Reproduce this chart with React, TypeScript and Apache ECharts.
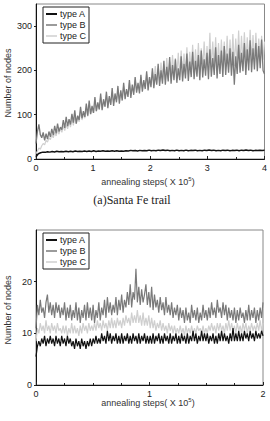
import React, { useEffect, useRef } from "react";
import * as echarts from "echarts";

// ---- (a) Santa Fe trail : annealing steps 0..4 (x10^5)
const topTypeA = [
  5, 12, 14, 15.5, 15, 16.5, 15.5, 17, 16, 17.5, 16.5, 17, 16.5, 17.5, 16.5, 17.5, 16.5, 18, 17, 17.5,
  17, 18, 17, 18, 17, 18.5, 17, 18, 17.5, 18.5, 17.5, 18, 17.5, 18.5, 17.5, 18.5, 17.5, 18, 17.5, 18.5,
  18, 19.5, 18.5, 19, 18, 19.5, 18.5, 19, 18.5, 20, 18.5, 19.5, 18.5, 20, 19, 20.5, 19, 20, 18.5, 19.5,
  18.5, 20, 18.5, 19.5, 18.5, 20, 18.5, 19.5, 19, 20, 18.5, 19.5, 18.5, 20, 19, 20.5, 19, 20, 18.5, 19.5,
  18.5, 20, 19, 20, 18.5, 19.5, 19, 20, 18.5, 20, 19, 20.5, 19, 20, 18.5, 19.5, 19, 20, 19, 19.5,
];
const topTypeB = [
  35, 62, 78, 55, 48, 60, 42, 57, 45, 62, 50, 68, 54, 75, 58, 80, 62, 72, 66, 88,
  70, 95, 74, 90, 78, 102, 82, 110, 80, 98, 88, 118, 92, 108, 95, 125, 98, 132, 102, 120,
  104, 140, 108, 128, 112, 148, 110, 135, 118, 152, 115, 142, 122, 160, 120, 148, 128, 165, 125, 155,
  132, 172, 135, 158, 140, 178, 138, 168, 145, 185, 150, 172, 148, 190, 152, 178, 158, 198, 155, 185,
  162, 205, 160, 192, 168, 215, 165, 200, 170, 222, 168, 208, 175, 230, 170, 212, 178, 225, 172, 205,
  178, 232, 175, 215, 182, 238, 176, 220, 185, 242, 180, 222, 186, 235, 178, 245, 184, 225, 188, 240,
  180, 248, 186, 228, 190, 252, 182, 235, 192, 245, 185, 255, 190, 238, 195, 250, 188, 242, 168, 232,
  192, 258, 195, 240, 198, 262, 190, 248, 200, 268, 196, 250, 202, 262, 198, 255, 205, 270, 200, 192,
];
const topTypeC = [
  12, 18, 25, 22, 30, 35, 32, 42, 38, 48, 44, 55, 48, 60, 52, 66, 56, 70, 60, 76,
  64, 78, 68, 85, 72, 92, 76, 98, 80, 95, 84, 108, 88, 102, 92, 115, 96, 120, 100, 115,
  104, 130, 108, 125, 112, 140, 115, 130, 118, 145, 122, 138, 125, 150, 128, 142, 132, 155, 135, 150,
  138, 165, 142, 155, 145, 172, 148, 160, 152, 178, 155, 168, 158, 185, 160, 172, 163, 192, 166, 185,
  168, 198, 170, 210, 172, 205, 174, 218, 176, 212, 178, 228, 180, 220, 182, 235, 184, 228, 185, 240,
  186, 245, 188, 238, 190, 252, 191, 242, 192, 258, 194, 248, 195, 262, 196, 250, 198, 265, 199, 255,
  200, 285, 202, 265, 203, 275, 204, 262, 205, 270, 206, 265, 207, 278, 208, 270, 209, 282, 210, 272,
  212, 290, 213, 278, 214, 286, 215, 275, 216, 292, 218, 280, 219, 285, 220, 272, 222, 278, 224, 265,
];

// ---- (b) : annealing steps 0..2 (x10^5)
const botTypeA = [
  5.5, 7.5, 8.5, 7.5, 9, 8, 9.5, 7.5, 9, 8, 9.5, 8, 9, 7.5, 9.5, 8, 9, 7.5, 9.5, 8,
  9, 7.5, 9.5, 8, 9, 7.5, 8.5, 7, 9, 7.5, 8.5, 7, 9, 7.5, 8.5, 7, 8.5, 7.5, 9, 7.5,
  9, 8, 9.5, 8, 9, 8, 10, 8.5, 9.5, 8, 10.5, 8.5, 10, 8, 9.5, 8.5, 10, 8, 9.5, 8,
  10, 8, 9.5, 8.5, 10, 8, 9.5, 8, 10, 8.5, 9.5, 8, 10, 8, 9.5, 8.5, 10, 8, 9.5, 8,
  9.5, 8, 10, 8, 9.5, 8.5, 10, 8, 9.5, 8, 10, 8.5, 9.5, 8, 10, 8, 9.5, 8.5, 10, 8,
  9.5, 8, 10, 8.5, 9.5, 8, 10, 8, 9.5, 8.5, 10.5, 8.5, 10, 8, 9.5, 8.5, 10.5, 8.5, 10, 8.5,
  10, 8, 9.5, 8.5, 10, 8, 9.5, 8, 10, 8.5, 10.5, 8.5, 10, 8.5, 9.5, 8, 10, 8.5, 11, 8.5,
  10, 8.5, 10.5, 8.5, 10, 8.5, 10.5, 9, 10, 8.5, 10.5, 9, 10, 8.5, 10.5, 9, 10, 9, 10.5, 9.5,
];
const botTypeB = [
  11, 15.5, 13.5, 16.5, 14, 15, 13, 16, 17.5, 14, 16, 13.5, 15.5, 13, 16, 14, 15.5, 13, 15, 13.5,
  16, 12.5, 15, 13, 15.5, 12.5, 14.5, 13, 16, 12.5, 15, 12, 14.5, 13, 15.5, 12.5, 16, 13, 15, 12.5,
  15.5, 12, 14.5, 13, 16, 12.5, 15, 13.5, 16.5, 13, 17, 14, 16, 13.5, 15.5, 14, 17, 13.5, 16.5, 14.5,
  17.5, 14, 16.5, 15, 18, 15.5, 19.5, 15, 18, 16.5, 22.5, 16, 19, 15.5, 18.5, 16, 17.5, 19.5, 15.5, 18,
  15, 19, 14.5, 17.5, 15, 16.5, 14, 17, 14.5, 16, 13.5, 17, 14, 15.5, 13.5, 16, 13, 15, 13.5, 15.5,
  12.5, 15, 13, 14.5, 12, 15, 12.5, 14, 12, 15.5, 13, 14.5, 12.5, 15, 12, 14, 12.5, 15.5, 13, 14.5,
  12.5, 15, 13, 16, 13.5, 15, 13, 16.5, 14, 15, 13, 16, 13.5, 15.5, 12.5, 15, 13, 14.5, 12.5, 15,
  12, 14.5, 12.5, 15, 13, 14, 12, 14.5, 12.5, 15.5, 12.5, 14.5, 13, 15, 12, 14.5, 12.5, 15, 13, 16,
];
const botTypeC = [
  8.5, 11, 10, 12, 10.5, 11.5, 10, 12.5, 10.5, 11.5, 10, 12, 10.5, 11.5, 10, 12, 10.5, 11, 10, 11.5,
  10, 11.5, 9.5, 11, 10, 12, 10, 11.5, 10, 11, 9.5, 11.5, 10, 12, 10.5, 11.5, 10, 12, 10.5, 11.5,
  10.5, 12, 10.5, 12.5, 11, 12, 10.5, 12.5, 11, 12, 10.5, 12.5, 11, 13, 11, 12.5, 11, 13, 11.5, 12.5,
  11, 13, 11.5, 13.5, 12, 13, 11.5, 14, 12, 13.5, 12, 14.5, 12, 13.5, 11.5, 14, 11.5, 13, 11.5, 13.5,
  11, 13, 11, 12.5, 10.5, 12, 11, 12.5, 10.5, 12, 10.5, 11.5, 10, 12, 10.5, 11.5, 10, 11.5, 10, 11,
  10, 11.5, 10, 11, 9.5, 11.5, 10, 11, 10, 11.5, 10, 11, 10, 11.5, 10.5, 11, 10, 11.5, 10, 11,
  10, 11.5, 10.5, 12, 10.5, 11.5, 10, 12, 10.5, 12, 10.5, 11.5, 10, 12, 10.5, 12.5, 10.5, 12, 10.5, 11.5,
  10, 12, 10.5, 11.5, 10, 12, 10.5, 12, 10, 11.5, 10.5, 12, 10.5, 11.5, 10.5, 12, 10.5, 12.5, 10.5, 12,
];

const seriesNames = ["type A", "type B", "type C"];
const seriesColors = ["#111111", "#7a7a7a", "#cfcfcf"];
const topXMax = 4;
const botXMax = 2;
const yLabel = "Number of nodes";
const captionA = "(a)Santa Fe trail";

const toPairs = (vals: number[], xmax: number) =>
  vals.map((v, i) => [(i * xmax) / (vals.length - 1), v]);

const FONT = "Liberation Sans, Arial, sans-serif";

function legendGroup(x: number, y: number) {
  const children: any[] = [
    {
      type: "rect",
      shape: { x: 0, y: 0, width: 46, height: 36 },
      style: { fill: "#fff", stroke: "#222", lineWidth: 1 },
    },
  ];
  seriesNames.forEach((n, i) => {
    const cy = 7 + i * 11;
    children.push({
      type: "line",
      shape: { x1: 3, y1: cy, x2: 14, y2: cy },
      style: { stroke: seriesColors[i], lineWidth: i === 0 ? 2 : 1.5 },
    });
    children.push({
      type: "text",
      x: 17,
      y: cy,
      style: {
        text: n,
        fill: "#222",
        font: `9px ${FONT}`,
        verticalAlign: "middle",
        align: "left",
      },
    });
  });
  return { type: "group", x, y, z: 100, children };
}

function xName(cx: number, cy: number) {
  return {
    type: "text",
    x: cx,
    y: cy,
    style: {
      text: "{a|annealing steps( X 10}{s|5}{a|)}",
      align: "center",
      verticalAlign: "middle",
      rich: {
        a: { font: `9px ${FONT}`, fill: "#333" },
        s: { font: `6px ${FONT}`, fill: "#333", verticalAlign: "top", padding: [0, 0, 6, 0] },
      },
    },
  };
}

function yName(cx: number, cy: number) {
  return {
    type: "text",
    x: cx,
    y: cy,
    rotation: Math.PI / 2,
    style: {
      text: yLabel,
      font: `9px ${FONT}`,
      fill: "#333",
      align: "center",
      verticalAlign: "middle",
    },
  };
}

export default function App() {
  const ref = useRef<HTMLDivElement>(null);
  useEffect(() => {
    if (!ref.current) return;
    const chart = echarts.init(ref.current, null, { renderer: "svg" });
    const axisLine = { show: true, lineStyle: { color: "#111", width: 1 } };
    const axisLabel = { color: "#222", fontSize: 9, fontFamily: FONT, margin: 4 };
    const xCommon = {
      type: "value",
      axisLine,
      axisTick: { show: true, inside: true, length: 3, lineStyle: { color: "#222" } },
      minorTick: { show: true, length: 2, lineStyle: { color: "#222" } },
      splitLine: { show: false },
      axisLabel,
    };
    const yCommon = {
      type: "value",
      axisLine,
      axisTick: { show: true, inside: false, length: 2, lineStyle: { color: "#222" } },
      splitLine: { show: false },
      axisLabel: { ...axisLabel, showMaxLabel: false },
    };
    const line = (name: string, data: any[], idx: number, color: string, w: number, z: number) => ({
      name,
      type: "line",
      xAxisIndex: idx,
      yAxisIndex: idx,
      data,
      showSymbol: false,
      symbol: "none",
      lineStyle: { color, width: w },
      z,
    });
    chart.setOption({
      animation: false,
      grid: [
        { left: 36, top: 4, width: 229, height: 155, show: true, borderColor: "#888", borderWidth: 1 },
        { left: 36, top: 230, width: 227, height: 155, show: true, borderColor: "#888", borderWidth: 1 },
      ],
      xAxis: [
        { ...xCommon, gridIndex: 0, min: 0, max: topXMax, interval: 1, minorTick: { ...xCommon.minorTick, splitNumber: 2 } },
        { ...xCommon, gridIndex: 1, min: 0, max: botXMax, interval: 1, minorTick: { ...xCommon.minorTick, splitNumber: 4 } },
      ],
      yAxis: [
        { ...yCommon, gridIndex: 0, min: 0, max: 350, interval: 100 },
        { ...yCommon, gridIndex: 1, min: 0, max: 30, interval: 10 },
      ],
      series: [
        line(seriesNames[2], toPairs(topTypeC, topXMax), 0, seriesColors[2], 1.2, 2),
        line(seriesNames[1], toPairs(topTypeB, topXMax), 0, seriesColors[1], 1.3, 3),
        line(seriesNames[0], toPairs(topTypeA, topXMax), 0, seriesColors[0], 1.5, 4),
        line(seriesNames[2], toPairs(botTypeC, botXMax), 1, seriesColors[2], 1.2, 2),
        line(seriesNames[1], toPairs(botTypeB, botXMax), 1, seriesColors[1], 1.2, 3),
        line(seriesNames[0], toPairs(botTypeA, botXMax), 1, seriesColors[0], 1.2, 4),
      ],
      graphic: [
        legendGroup(43, 7),
        legendGroup(43, 233),
        xName(148, 182),
        xName(148, 403),
        yName(8, 83),
        yName(8, 310),
        {
          type: "text",
          x: 132,
          y: 200,
          style: {
            text: captionA,
            font: "12px 'Liberation Serif', 'DejaVu Serif', serif",
            fill: "#222",
            align: "center",
            verticalAlign: "middle",
          },
        },
      ],
    });
    return () => chart.dispose();
  }, []);
  return (
    <div
      ref={ref}
      style={{ position: "absolute", left: 0, top: 0, width: 270, height: 421, background: "#fff" }}
    />
  );
}
